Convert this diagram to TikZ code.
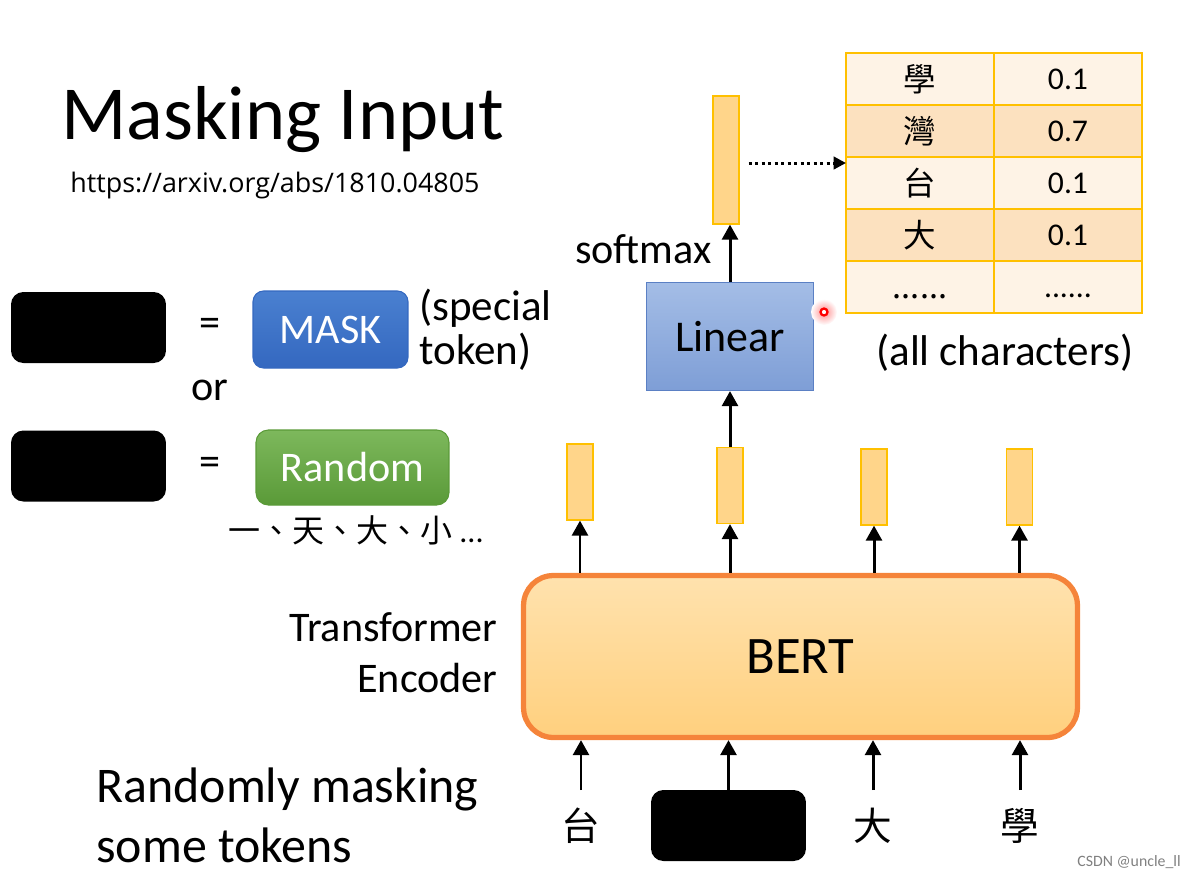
\documentclass[tikz,border=0pt]{standalone}
\usepackage{fontspec}
\setmainfont{Carlito}
\newfontfamily\cjk{Noto Sans CJK TC}
\newfontfamily\urlfont{Open Sans}
\usetikzlibrary{arrows.meta}
\definecolor{gold}{HTML}{FFC000}
\definecolor{vecfill}{HTML}{FFD58A}
\definecolor{masktop}{HTML}{4A80D0}
\definecolor{maskbot}{HTML}{3468C0}
\definecolor{randtop}{HTML}{7DB85C}
\definecolor{randbot}{HTML}{5A9A38}
\definecolor{lintop}{HTML}{A4BDE6}
\definecolor{linbot}{HTML}{7E9ED6}
\definecolor{linedge}{HTML}{5B80C4}
\definecolor{berttop}{HTML}{FFE2AE}
\definecolor{bertbot}{HTML}{FFD07E}
\definecolor{bertedge}{HTML}{F5843A}
\definecolor{rowlight}{HTML}{FEF3E6}
\definecolor{rowdark}{HTML}{FCE1BF}
\def\pxu{0.56905pt}
\def\sixdots{\vphantom{0}......}
\begin{document}
\begin{tikzpicture}[x=0.02cm,y=-0.02cm,
  arr/.style={line width=1.7pt,-{Triangle[length=8.5pt,width=9pt]}},
  dotarr/.style={line width=1.7pt,dotted,-{Triangle[length=7pt,width=7pt]}},
  blk/.style={fill=black,rounded corners=7pt,minimum width=155*\pxu,minimum height=71*\pxu,inner sep=0pt},
  lbl/.style={inner sep=0pt,font=\fontsize{24}{28}\selectfont},
  vecbox/.style={draw=gold,fill=vecfill,line width=0.7pt,inner sep=0pt,minimum width=26*\pxu,minimum height=76*\pxu},
  cell/.style={draw=gold,line width=1.2pt,inner sep=0pt,minimum width=148*\pxu,minimum height=52*\pxu},
  tok/.style={inner sep=0pt,minimum height=71*\pxu,font=\cjk\fontsize{22}{26}\selectfont},
]
\useasboundingbox (0,0) rectangle (1194,877);

% title
\node[anchor=base west,inner sep=0pt,font=\fontsize{43.5}{48}\selectfont] (title) at (61,139) {Masking Input};
\node[anchor=base west,inner sep=0pt,font=\urlfont\fontsize{15.3}{18}\selectfont] (url) at (70,192) {https://arxiv.org/abs/1810.04805};

% left legend
\node[blk] (m1) at (88.5,327.5) {};
\node[blk] (m2) at (88.5,466) {};
\node[lbl] (eq1) at (210,327) {=};
\node[lbl] (eq2) at (210,466) {=};
\node[lbl] (or) at (210,390) {or};
\node[lbl,text=white,rounded corners=6pt,top color=masktop,bottom color=maskbot,draw=maskbot,line width=0.6pt,minimum width=155*\pxu,minimum height=77*\pxu] (mask) at (330.5,329.5) {MASK};
\node[lbl,anchor=west,align=left,font=\fontsize{24.5}{25}\selectfont] (spec) at (419,330) {(special\\token)};
\node[lbl,text=white,rounded corners=7pt,top color=randtop,bottom color=randbot,draw=randbot,line width=0.6pt,minimum width=193*\pxu,minimum height=75*\pxu] (rand) at (352.5,467.5) {Random};
\node[anchor=west,inner sep=0pt,font=\fontsize{18.2}{20}\selectfont] (rlist) at (228,530) {{\cjk 一、天、大、小} ...};

% linear and output
\node[lbl,draw=linedge,line width=0.7pt,top color=lintop,bottom color=linbot,minimum width=167*\pxu,minimum height=108*\pxu,font=\fontsize{25}{28}\selectfont] (lin) at (730,336.5) {Linear};
\node[vecbox,minimum height=128*\pxu] (out) at (726,160) {};
\node[lbl,anchor=east] (soft) at (712,249) {softmax};
\draw[arr] (lin.north) -- (lin.north |- out.south);

% table
\foreach \ch/\val [count=\i] in {學/0.1,灣/0.7,台/0.1,大/0.1,\sixdots/\sixdots}{
  \pgfmathsetmacro{\yy}{53+52*(\i-1)+26}
  \ifodd\i \def\rc{rowlight}\else\def\rc{rowdark}\fi
  \node[cell,fill=\rc,font=\cjk\fontsize{18.5}{20}\selectfont] (c\i a) at (920,\yy) {\ch};
  \node[cell,fill=\rc,font=\fontsize{18}{20}\selectfont] (c\i b) at (1068,\yy) {\val};
}
\coordinate (tin) at (846,163);
\draw[dotarr,shorten <=9*\pxu] (out.east |- tin) -- (tin);
\node[lbl,font=\fontsize{24.5}{28}\selectfont] (allc) at (1005,353) {(all characters)};

% laser pointer dot
\shade[inner color=red!45,outer color=white] (824,312) circle (13);
\node[circle,draw=red,line width=1.3pt,fill=white,inner sep=0pt,minimum size=7*\pxu] (ptr) at (824,312) {};

% BERT
\node[lbl,rounded corners=17pt,draw=bertedge,line width=3pt,top color=berttop,bottom color=bertbot,minimum width=554*\pxu,minimum height=162*\pxu,font=\fontsize{30}{34}\selectfont] (bert) at (800.5,656.5) {BERT};
\node[lbl,anchor=east,align=right,font=\fontsize{24}{29}\selectfont] (tenc) at (498,653) {Transformer\\Encoder};

% output vectors
\node[vecbox] (v1) at (580,482) {};
\node[vecbox] (v2) at (730,485.5) {};
\node[vecbox] (v3) at (874,487) {};
\node[vecbox] (v4) at (1019.5,487) {};
\foreach \v in {v1,v2,v3,v4}{
  \draw[arr] (bert.north -| \v) -- (\v.south);
}
\draw[arr] (v2.north) -- (v2.north |- lin.south);

% input tokens
\node[tok] (t1) at (581,826) {台};
\node[blk] (t2) at (728.5,825.5) {};
\node[tok] (t3) at (873,826) {大};
\node[tok] (t4) at (1020,826) {學};
\foreach \t in {t1,t2,t3,t4}{
  \draw[arr] (\t.north) -- (\t.north |- bert.south);
}

\node[lbl,anchor=west,align=left,font=\fontsize{28.4}{34}\selectfont] (rmask) at (96,815) {Randomly masking\\some tokens};

\node[anchor=east,inner sep=0pt,text=gray,font=\fontsize{9}{10}\selectfont] (wm) at (1181,862) {CSDN @uncle\_ll};
\end{tikzpicture}
\end{document}
